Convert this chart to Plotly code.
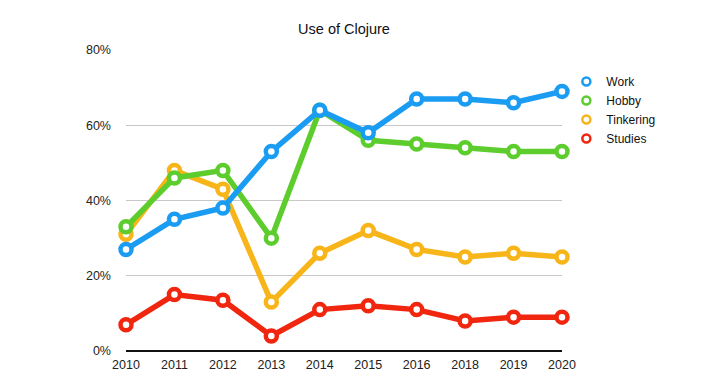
import plotly.graph_objects as go

years = ["2010", "2011", "2012", "2013", "2014", "2015", "2016", "2018", "2019", "2020"]
work = [27, 35, 38, 53, 64, 58, 67, 67, 66, 69]
hobby = [33, 46, 48, 30, 64, 56, 55, 54, 53, 53]
tinkering = [31, 48, 43, 13, 26, 32, 27, 25, 26, 25]
studies = [7, 15, 13.5, 4, 11, 12, 11, 8, 9, 9]

series = [
    ("Studies", studies, "#f0260f"),
    ("Tinkering", tinkering, "#f7b519"),
    ("Hobby", hobby, "#5ccd2c"),
    ("Work", work, "#1a9cf3"),
]

fig = go.Figure()
for name, vals, col in series:
    fig.add_trace(go.Scatter(
        x=years, y=vals, mode="lines+markers", name=name, showlegend=False,
        line=dict(color=col, width=5.5),
        marker=dict(size=11, color="white", line=dict(color=col, width=4.5)),
        cliponaxis=False,
    ))
# legend entries (marker only), in reference order
for name, vals, col in reversed(series):
    fig.add_trace(go.Scatter(
        x=[None], y=[None], mode="markers", name=name,
        marker=dict(size=8, color="white", line=dict(color=col, width=2.5)),
    ))

# the page body adds an 8px offset, so the figure is sized 8px smaller
fig.update_layout(
    width=713, height=378,
    margin=dict(l=118, r=159, t=42, b=35),
    paper_bgcolor="white", plot_bgcolor="white",
    font=dict(family="Liberation Sans, Arial, sans-serif", size=12, color="#222"),
    title=dict(text="Use of Clojure", x=(118 + 554) / 2 / 713, xanchor="center",
               y=1 - 21 / 378, yanchor="middle", font=dict(size=14.5, color="#111")),
    showlegend=True,
    legend=dict(x=1.01, xanchor="left", y=(301 - 17) / 301, yanchor="top",
                font=dict(size=12, color="#111"), traceorder="normal",
                bgcolor="rgba(0,0,0,0)", tracegroupgap=0, itemsizing="trace"),
    xaxis=dict(type="category", range=[0, 9], showgrid=False, zeroline=False,
               showline=False, ticks="", ticklabelstandoff=4,
               tickfont=dict(size=12.5, color="#222")),
    yaxis=dict(range=[0, 80], tickvals=[0, 20, 40, 60, 80],
               ticktext=["0%", "20%", "40%", "60%", "80%"],
               showgrid=True, gridcolor="#c8c8c8", gridwidth=1,
               zeroline=True, zerolinecolor="#111", zerolinewidth=2,
               showline=False, ticks="", ticklabelstandoff=14,
               tickfont=dict(size=12.5, color="#222")),
)

fig.write_html("out.html")
